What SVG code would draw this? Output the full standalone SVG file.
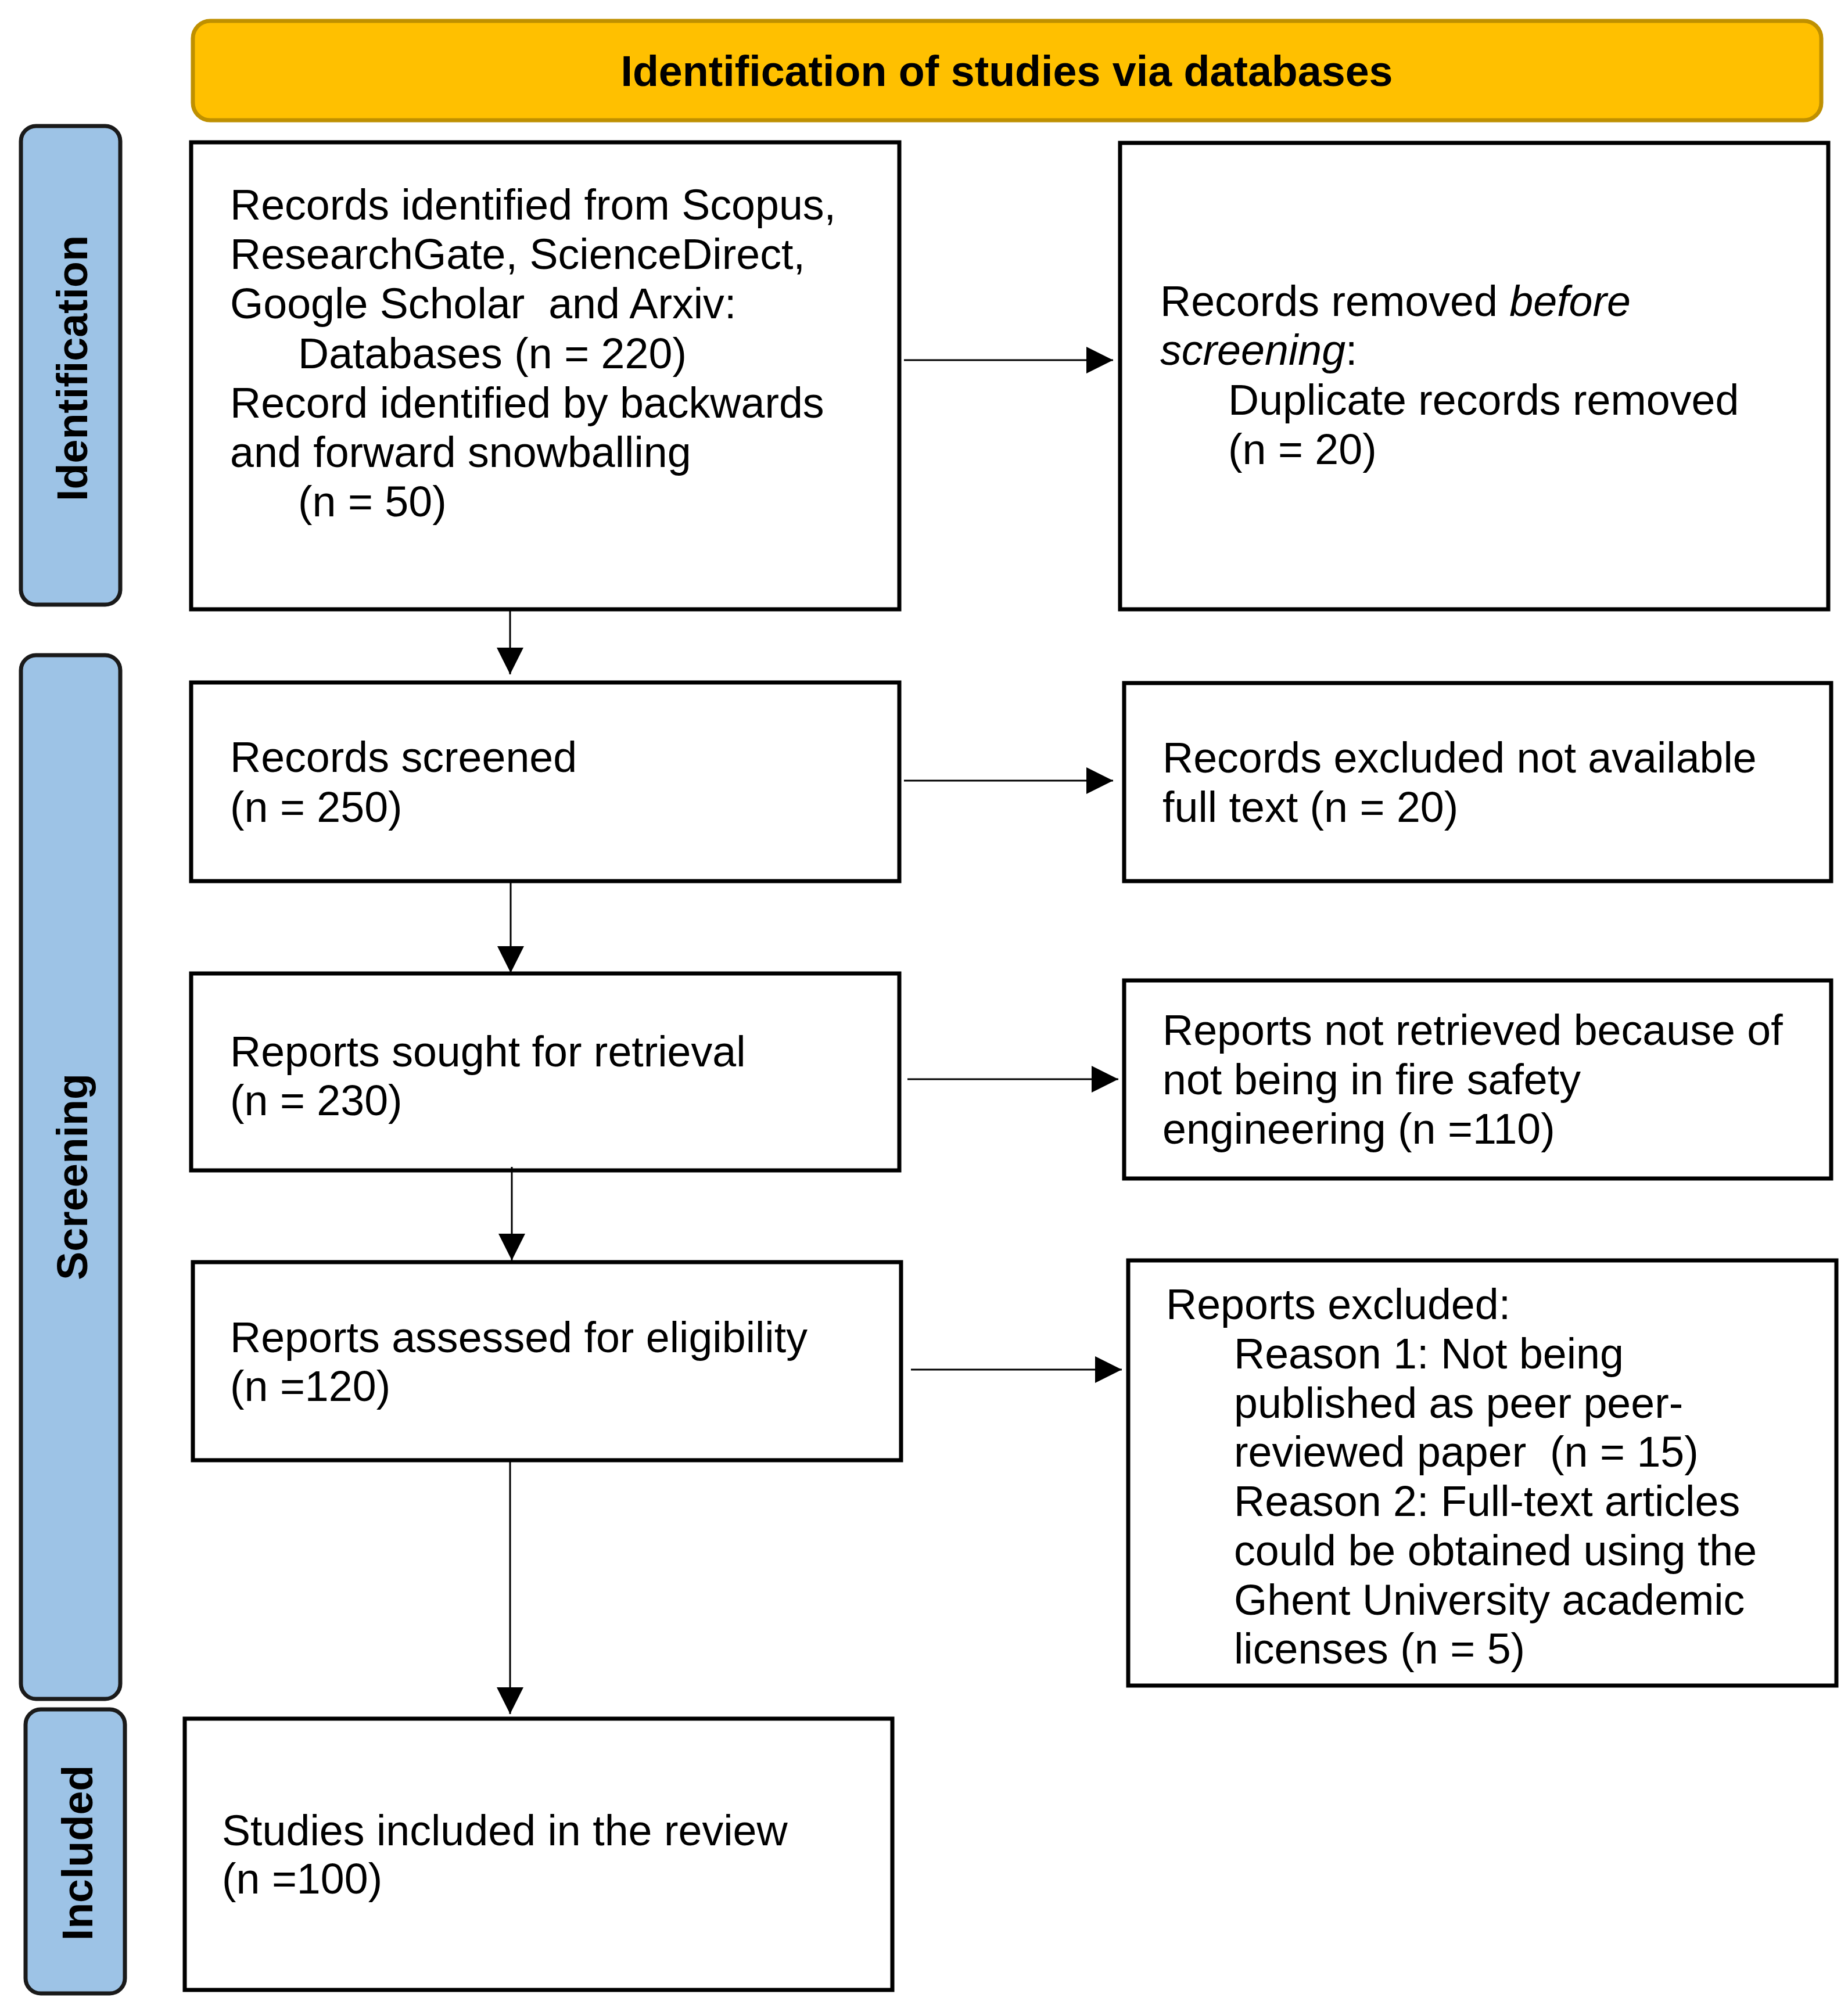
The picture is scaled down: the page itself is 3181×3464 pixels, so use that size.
<svg xmlns="http://www.w3.org/2000/svg" width="3181" height="3464" viewBox="0 0 3181 3464">
<defs>
<style>
.t{font-family:"Liberation Sans",Arial,sans-serif;font-size:73.6px;fill:#000;white-space:pre}
.b{font-weight:bold}
.box{fill:#fff;stroke:#000;stroke-width:7}
.side{fill:#9DC3E6;stroke:#1a1a1a;stroke-width:7}
.hdr{fill:#FFC000;stroke:#BF9000;stroke-width:7}
.ln{stroke:#000;stroke-width:3;fill:none}
</style>
<marker id="ah" markerUnits="userSpaceOnUse" markerWidth="48" markerHeight="48" refX="46" refY="23" orient="auto" viewBox="0 0 48 48">
<path d="M0,0 L46,23 L0,46 z" fill="#000"/>
</marker>
</defs>
<rect width="3181" height="3464" fill="#fff"/>

<g id="header">
<rect class="hdr" x="332" y="36" width="2803" height="171" rx="30"/>
<text class="t b" x="1733" y="148" text-anchor="middle">Identification of studies via databases</text>
</g>

<g id="side-identification">
<rect class="side" x="36" y="217" width="171" height="824" rx="26"/>
<text class="t b" transform="translate(150,634) rotate(-90)" text-anchor="middle">Identification</text>
</g>
<g id="side-screening">
<rect class="side" x="36" y="1128" width="171" height="1797" rx="26"/>
<text class="t b" transform="translate(150,2026) rotate(-90)" text-anchor="middle">Screening</text>
</g>
<g id="side-included">
<rect class="side" x="44" y="2943" width="171" height="489" rx="26"/>
<text class="t b" transform="translate(159,3190) rotate(-90)" text-anchor="middle">Included</text>
</g>

<g id="n-identified">
<rect class="box" x="329" y="245" width="1219" height="804"/>
<text class="t" x="396" y="378">Records identified from Scopus,</text>
<text class="t" x="396" y="463">ResearchGate, ScienceDirect,</text>
<text class="t" x="396" y="548">Google Scholar  and Arxiv:</text>
<text class="t" x="513" y="634">Databases (n = 220)</text>
<text class="t" x="396" y="719">Record identified by backwards</text>
<text class="t" x="396" y="804">and forward snowballing</text>
<text class="t" x="513" y="889">(n = 50)</text>
</g>

<g id="n-removed">
<rect class="box" x="1928" y="246" width="1219" height="803"/>
<text class="t" x="1997" y="544">Records removed <tspan font-style="italic">before</tspan></text>
<text class="t" x="1997" y="628"><tspan font-style="italic">screening</tspan>:</text>
<text class="t" x="2114" y="714">Duplicate records removed</text>
<text class="t" x="2114" y="799">(n = 20)</text>
</g>

<g id="n-screened">
<rect class="box" x="329" y="1175" width="1219" height="342"/>
<text class="t" x="396" y="1329">Records screened</text>
<text class="t" x="396" y="1415">(n = 250)</text>
</g>

<g id="n-excluded-fulltext">
<rect class="box" x="1935" y="1176" width="1217" height="341"/>
<text class="t" x="2001" y="1330">Records excluded not available</text>
<text class="t" x="2001" y="1415">full text (n = 20)</text>
</g>

<g id="n-sought">
<rect class="box" x="329" y="1676" width="1219" height="339"/>
<text class="t" x="396" y="1836">Reports sought for retrieval</text>
<text class="t" x="396" y="1920">(n = 230)</text>
</g>

<g id="n-not-retrieved">
<rect class="box" x="1935" y="1688" width="1217" height="341"/>
<text class="t" x="2001" y="1799">Reports not retrieved because of</text>
<text class="t" x="2001" y="1884">not being in fire safety</text>
<text class="t" x="2001" y="1969">engineering (n =110)</text>
</g>

<g id="n-assessed">
<rect class="box" x="332" y="2173" width="1219" height="341"/>
<text class="t" x="396" y="2328">Reports assessed for eligibility</text>
<text class="t" x="396" y="2412">(n =120)</text>
</g>

<g id="n-reports-excluded">
<rect class="box" x="1942" y="2170" width="1219" height="732"/>
<text class="t" x="2007" y="2271">Reports excluded:</text>
<text class="t" x="2124" y="2356">Reason 1: Not being</text>
<text class="t" x="2124" y="2441">published as peer peer-</text>
<text class="t" x="2124" y="2525">reviewed paper  (n = 15)</text>
<text class="t" x="2124" y="2610">Reason 2: Full-text articles</text>
<text class="t" x="2124" y="2695">could be obtained using the</text>
<text class="t" x="2124" y="2780">Ghent University academic</text>
<text class="t" x="2124" y="2864">licenses (n = 5)</text>
</g>

<g id="n-included">
<rect class="box" x="318" y="2959" width="1218" height="467"/>
<text class="t" x="382" y="3177">Studies included in the review</text>
<text class="t" x="382" y="3260">(n =100)</text>
</g>

<g id="connectors">
<line class="ln" x1="1556" y1="620" x2="1916" y2="620" marker-end="url(#ah)"/>
<line class="ln" x1="1556" y1="1344" x2="1916" y2="1344" marker-end="url(#ah)"/>
<line class="ln" x1="1562" y1="1858" x2="1925" y2="1858" marker-end="url(#ah)"/>
<line class="ln" x1="1568" y1="2358" x2="1931" y2="2358" marker-end="url(#ah)"/>
<line class="ln" x1="878" y1="1049" x2="878" y2="1161" marker-end="url(#ah)"/>
<line class="ln" x1="879" y1="1517" x2="879" y2="1675" marker-end="url(#ah)"/>
<line class="ln" x1="881" y1="2009" x2="881" y2="2170" marker-end="url(#ah)"/>
<line class="ln" x1="878" y1="2514" x2="878" y2="2951" marker-end="url(#ah)"/>
</g>
</svg>
